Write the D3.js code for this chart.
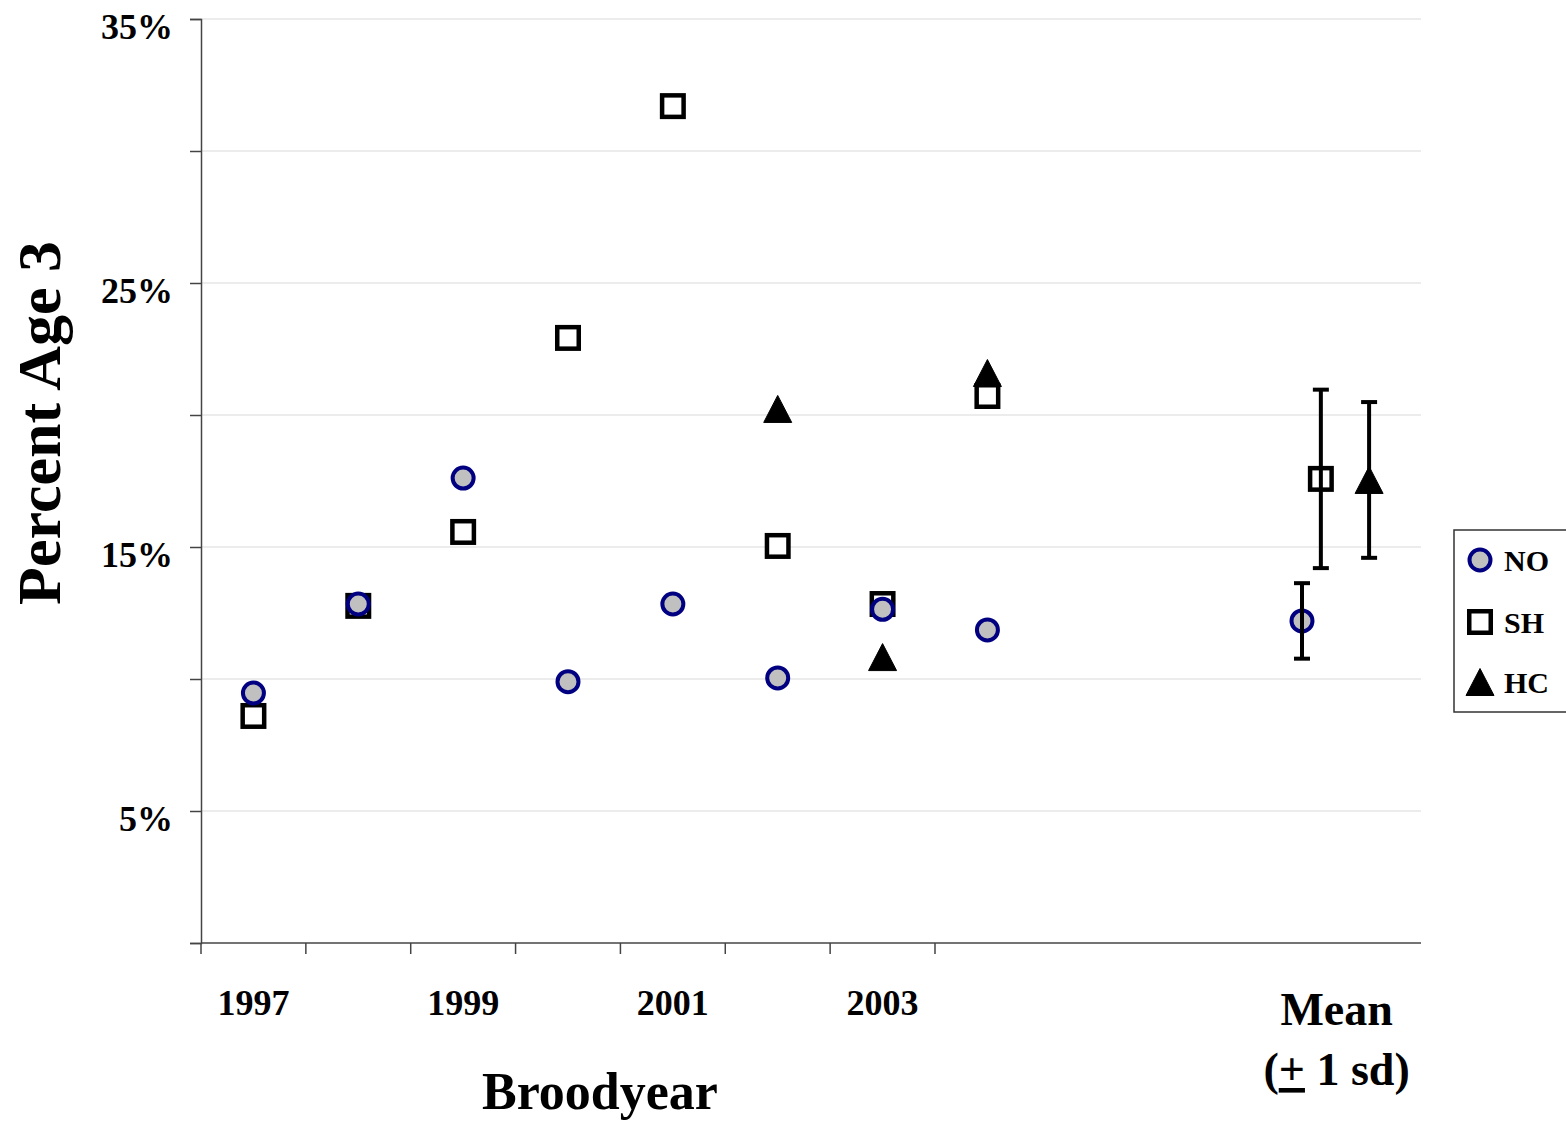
<!DOCTYPE html>
<html>
<head>
<meta charset="utf-8">
<script src="https://cdn.jsdelivr.net/npm/d3@7"></script>
<style>
  html, body { margin: 0; padding: 0; background: #fff; }
  svg { display: block; }
  text { font-family: "Liberation Serif", "Times New Roman", serif; font-weight: bold; fill: #000; }
</style>
</head>
<body>
<svg id="chart" width="1566" height="1123"></svg>
<script>
// Brood years on the x axis
const years = ["1997", "1998", "1999", "2000", "2001", "2002", "2003", "2004"];
const yearLabels = ["1997", "1999", "2001", "2003"];

// Percent age-3 returns by brood year (null = no data)
const noValues = [9.47, 12.84, 17.61, 9.90, 12.84, 10.04, 12.64, 11.86];
const shValues = [8.60, 12.77, 15.57, 22.92, 31.70, 15.04, 12.84, 20.72];
const hcValues = [null, null, null, null, null, 20.23, 10.83, 21.59];

// Means and standard deviations per stock
const stocks = ["NO", "SH", "HC"];
const meanValues = [12.2, 17.58, 17.54];
const sdValues = [1.43, 3.38, 2.95];

// Y axis ticks
const yTicks = [0, 5, 10, 15, 20, 25, 30, 35];
const yTickLabels = ["5%", "15%", "25%", "35%"];

const svg = d3.select("#chart");

const plot = { left: 201, right: 1421, top: 19, bottom: 943 };

const y = d3.scaleLinear().domain([0, 35]).range([plot.bottom, plot.top]);
const x = d3.scaleLinear().domain([0, 11.635]).range([plot.left, plot.right]);
const yearX = i => x(i + 0.5);
const meanSlot = { NO: 10.5, SH: 10.68, HC: 11.14 };

// Gridlines
svg.append("g")
  .selectAll("line")
  .data(yTicks.filter(d => d > 0))
  .join("line")
  .attr("x1", plot.left).attr("x2", plot.right)
  .attr("y1", d => y(d)).attr("y2", d => y(d))
  .attr("stroke", "#d9d9d9").attr("stroke-width", 1);

// Y axis
const yAxis = d3.axisLeft(y)
  .tickValues(yTicks)
  .tickSize(11)
  .tickFormat(d => yTickLabels.includes(d + "%") ? d + "%" : "");
const gy = svg.append("g")
  .attr("transform", `translate(${plot.left},0)`)
  .call(yAxis);
gy.select(".domain").attr("stroke", "#444").attr("stroke-width", 1.5);
gy.selectAll(".tick line").attr("stroke", "#444").attr("stroke-width", 1.5);
gy.selectAll(".tick text")
  .attr("x", -28)
  .attr("dy", "0.55em")
  .style("font-family", "'Liberation Serif', serif")
  .style("font-weight", "bold")
  .style("font-size", "36px")
  .attr("fill", "#000");

// X axis line and ticks
svg.append("line")
  .attr("x1", plot.left).attr("x2", plot.right)
  .attr("y1", plot.bottom).attr("y2", plot.bottom)
  .attr("stroke", "#444").attr("stroke-width", 1.5);
svg.append("g")
  .selectAll("line")
  .data(d3.range(years.length))
  .join("line")
  .attr("x1", d => x(d)).attr("x2", d => x(d))
  .attr("y1", plot.bottom).attr("y2", plot.bottom + 11)
  .attr("stroke", "#444").attr("stroke-width", 1.5);

svg.append("g")
  .selectAll("text")
  .data(yearLabels)
  .join("text")
  .attr("x", d => yearX(years.indexOf(d)))
  .attr("y", 1015)
  .attr("text-anchor", "middle")
  .style("font-size", "36px")
  .text(d => d);

// Axis titles
svg.append("text")
  .attr("x", 600).attr("y", 1109)
  .attr("text-anchor", "middle")
  .style("font-size", "52px")
  .text("Broodyear");

svg.append("text")
  .attr("transform", "translate(60,423) rotate(-90)")
  .attr("text-anchor", "middle")
  .style("font-size", "62px")
  .text("Percent Age 3");

const meanLabel = svg.append("text")
  .attr("text-anchor", "middle")
  .style("font-size", "46px");
meanLabel.append("tspan").attr("x", x(10.83)).attr("y", 1025).text("Mean");
const l2 = meanLabel.append("tspan").attr("x", x(10.83)).attr("y", 1085);
l2.append("tspan").text("(");
l2.append("tspan").style("text-decoration", "underline").text("+");
l2.append("tspan").text(" 1 sd)");

// Marker shapes
const markers = {
  NO: g => g.append("circle").attr("r", 10.5)
    .attr("fill", "#c0c0c0").attr("stroke", "#000080").attr("stroke-width", 4),
  SH: g => g.append("rect").attr("x", -10.75).attr("y", -10.75)
    .attr("width", 21.5).attr("height", 21.5)
    .attr("fill", "#fff").attr("stroke", "#000").attr("stroke-width", 4.5),
  HC: g => g.append("path").attr("d", "M0,-13.5 L14,13.5 L-14,13.5 Z")
    .attr("fill", "#000").attr("stroke", "#000").attr("stroke-width", 1).attr("stroke-linejoin", "round")
};

function drawSeries(name, values) {
  const pts = values.map((v, i) => ({ v, i })).filter(d => d.v != null);
  const g = svg.append("g");
  pts.forEach(d => {
    const m = g.append("g").attr("transform", `translate(${yearX(d.i)},${y(d.v)})`);
    markers[name](m);
  });
}

drawSeries("SH", shValues);
drawSeries("HC", hcValues);
drawSeries("NO", noValues);

// Means with +/- 1 sd error bars
const meanG = svg.append("g");
stocks.forEach((s, k) => {
  const cx = x(meanSlot[s]);
  const m = meanG.append("g").attr("transform", `translate(${cx},${y(meanValues[k])})`);
  markers[s](m);
});
stocks.forEach((s, k) => {
  const cx = x(meanSlot[s]);
  const hi = y(meanValues[k] + sdValues[k]);
  const lo = y(meanValues[k] - sdValues[k]);
  meanG.append("line").attr("x1", cx).attr("x2", cx).attr("y1", hi).attr("y2", lo)
    .attr("stroke", "#000").attr("stroke-width", 4);
  [hi, lo].forEach(yy => {
    meanG.append("line").attr("x1", cx - 8).attr("x2", cx + 8).attr("y1", yy).attr("y2", yy)
      .attr("stroke", "#000").attr("stroke-width", 4);
  });
});

// Legend
const legend = svg.append("g");
legend.append("rect")
  .attr("x", 1454).attr("y", 530).attr("width", 130).attr("height", 182)
  .attr("fill", "#fff").attr("stroke", "#333").attr("stroke-width", 1.5);
const legendRowY = [560, 622, 682];
stocks.forEach((s, k) => {
  const m = legend.append("g").attr("transform", `translate(1480,${legendRowY[k]})`);
  markers[s](m);
  legend.append("text")
    .attr("x", 1504).attr("y", legendRowY[k] + 11)
    .style("font-size", "30px")
    .text(s);
});
</script>
</body>
</html>
